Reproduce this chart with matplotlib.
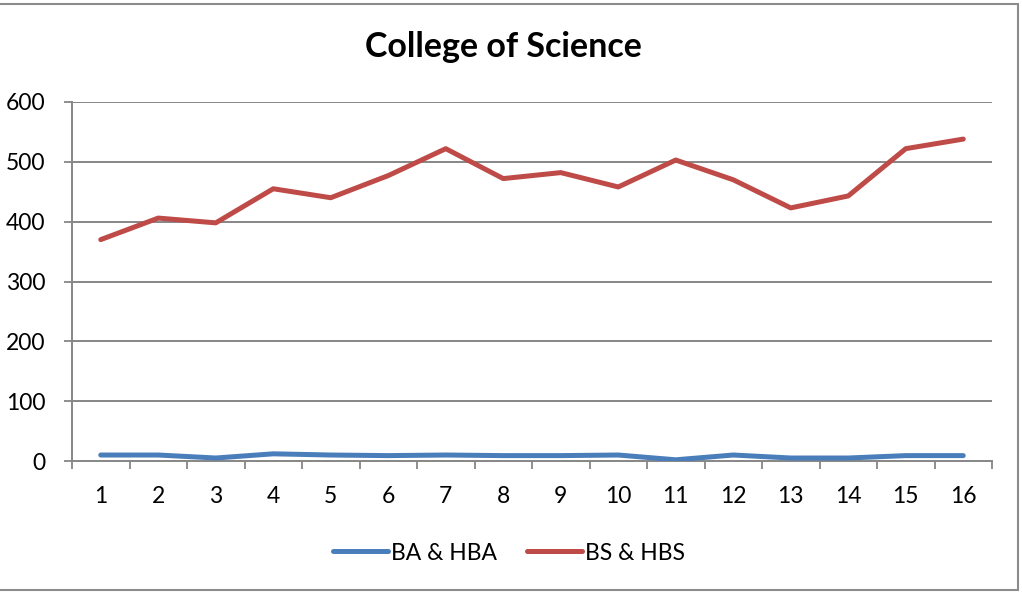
import matplotlib.pyplot as plt
from matplotlib.patches import Rectangle

# data
categories = list(range(1, 17))
ba_hba = [10, 10, 5, 12, 10, 9, 10, 9, 9, 10, 2, 10, 5, 5, 9, 9]
bs_hbs = [370, 406, 398, 455, 440, 477, 522, 472, 482, 458, 503, 470, 423, 443, 522, 538]
y_ticks = [0, 100, 200, 300, 400, 500, 600]

blue = '#4a7ebb'
red = '#be4b48'
grid = '#868686'

plt.rcParams['font.family'] = ['Lato', 'DejaVu Sans']

fig = plt.figure(figsize=(10.22, 5.92), dpi=100)
ax = fig.add_axes([72/1022, 1-461/592, 920/1022, 359/592])

ax.plot(categories, ba_hba, color=blue, lw=3.6, solid_capstyle='round',
        solid_joinstyle='round', label='BA & HBA', zorder=3)
ax.plot(categories, bs_hbs, color=red, lw=3.6, solid_capstyle='round',
        solid_joinstyle='round', label='BS & HBS', zorder=3)

ax.set_xlim(0.5, 16.5)
ax.set_ylim(0, 600)
ax.set_yticks(y_ticks)
ax.set_xticks(categories)
ax.set_xticks([c + 0.5 for c in [0] + categories], minor=True)
ax.tick_params(axis='x', which='major', length=0, pad=18, labelsize=16.5)
ax.tick_params(axis='x', which='minor', length=6, width=1.3, color=grid, direction='out')
ax.tick_params(axis='y', length=6, width=1.3, color=grid, pad=13, labelsize=16.5)

for y in y_ticks[1:]:
    ax.axhline(y, color=grid, lw=1.4, zorder=1)
for s in ['top', 'right']:
    ax.spines[s].set_visible(False)
for s in ['left', 'bottom']:
    ax.spines[s].set_color(grid)
    ax.spines[s].set_linewidth(1.4)

fig.text(503/1022, 1-47/592, 'College of Science', ha='center', va='center',
         fontsize=24.5, fontweight='bold')

leg = ax.legend(loc='center', bbox_to_anchor=(509/1022, 1-553/592),
                bbox_transform=fig.transFigure, ncol=2, frameon=False,
                fontsize=16.5, handlelength=2.4, handletextpad=0.15, columnspacing=1.3)

# outer chart frame
fig.patches.append(Rectangle((-0.01, 2/592), 1018/1022 + 0.01, 1 - 6/592,
                             transform=fig.transFigure, fill=False,
                             edgecolor='#8c8c8c', lw=1.5))

fig.savefig('out.png', dpi=100)
